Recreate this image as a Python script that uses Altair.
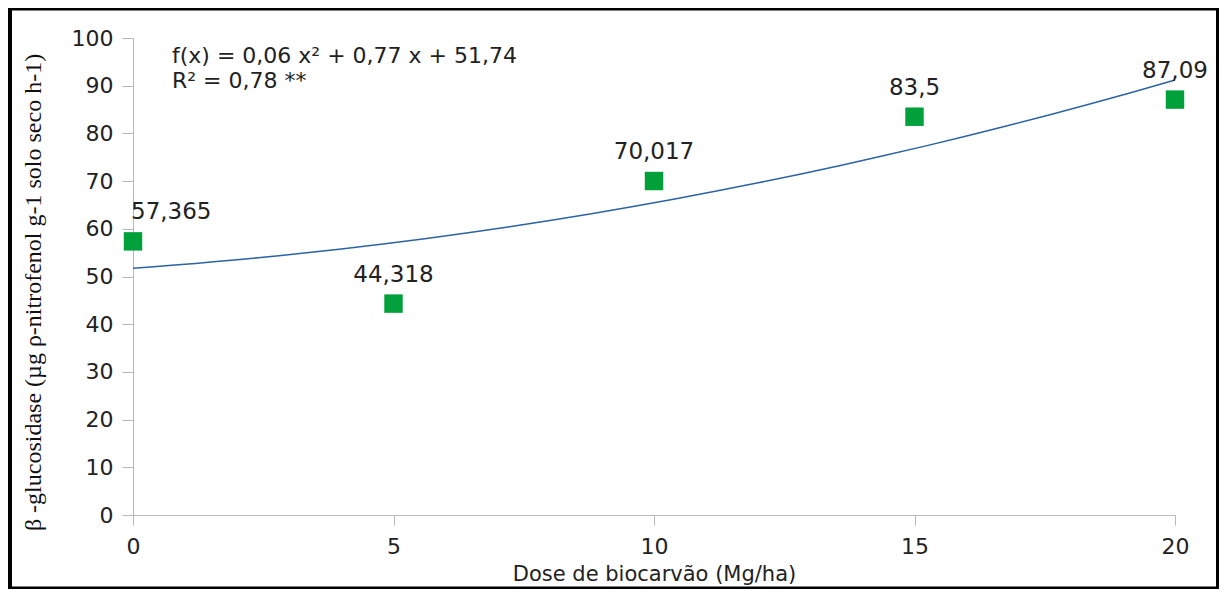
import altair as alt
import pandas as pd

# ---- data ----
doses = [0, 5, 10, 15, 20]
values = [57.365, 44.318, 70.017, 83.5, 87.09]
labels = ["57,365", "44,318", "70,017", "83,5", "87,09"]
x_ticks = [0, 5, 10, 15, 20]
y_ticks = [0, 10, 20, 30, 40, 50, 60, 70, 80, 90, 100]
equation = "f(x) = 0,06 x² + 0,77 x + 51,74"
r_squared = "R² = 0,78 **"
x_title = "Dose de biocarvão (Mg/ha)"
y_title = "β -glucosidase (µg ρ-nitrofenol g-1 solo seco h-1)"

df = pd.DataFrame({"dose": doses, "valor": values, "rotulo": labels})

SANS = "DejaVu Sans"
SERIF = "Liberation Serif"
AXIS_GRAY = "#b8b8b8"
TEXT = "#222222"

x_enc = alt.X(
    "dose:Q",
    scale=alt.Scale(domain=[0, 20], nice=False, zero=False),
    axis=alt.Axis(
        values=x_ticks, title=x_title, grid=False,
        domainColor=AXIS_GRAY, tickColor=AXIS_GRAY, tickSize=10,
        labelFont=SANS, labelFontSize=22, labelColor=TEXT, labelPadding=11,
        labelFlush=False,
        titleFont=SANS, titleFontSize=21, titleFontWeight="normal",
        titleColor=TEXT, titleY=59, titleBaseline="middle",
    ),
)
y_enc = alt.Y(
    "valor:Q",
    scale=alt.Scale(domain=[0, 100], nice=False),
    axis=alt.Axis(
        values=y_ticks, title=y_title, grid=False,
        domainColor=AXIS_GRAY, tickColor=AXIS_GRAY, tickSize=11,
        labelFont=SANS, labelFontSize=22, labelColor=TEXT, labelPadding=9,
        labelFlush=False,
        titleFont=SERIF, titleFontSize=24, titleFontWeight="normal",
        titleColor="#111111", titleAngle=270, titleX=-100, titleY=254,
        titleAlign="center", titleBaseline="middle",
    ),
)

base = alt.Chart(df)

curve = base.transform_regression(
    "dose", "valor", method="poly", order=2, extent=[0, 20]
).mark_line(color="#2b63a3", strokeWidth=1.5).encode(x=x_enc, y=y_enc)

points = base.mark_square(
    size=340, color="#00a13a", opacity=1, filled=True
).encode(x="dose:Q", y="valor:Q")

labels_mid = base.transform_filter("datum.dose > 0").mark_text(
    align="center", baseline="middle", dy=-29,
    font=SANS, fontSize=23, color=TEXT,
).encode(x="dose:Q", y="valor:Q", text="rotulo:N")

labels_first = base.transform_filter("datum.dose == 0").mark_text(
    align="left", baseline="middle", dy=-29, dx=-2,
    font=SANS, fontSize=23, color=TEXT,
).encode(x="dose:Q", y="valor:Q", text="rotulo:N")

one = alt.Chart(pd.DataFrame({"k": [0]}))

annotation = one.mark_text(
    align="left", baseline="top", font=SANS, fontSize=22,
    color=TEXT, lineHeight=25,
).encode(x=alt.value(39), y=alt.value(8), text=alt.value([equation, r_squared]))

frame = one.mark_rect(
    fillOpacity=0, stroke="black", strokeWidth=4
).encode(
    x=alt.value(-123), x2=alt.value(1085),
    y=alt.value(-29.5), y2=alt.value(550.5),
)

chart = alt.layer(curve, points, labels_mid, labels_first, annotation, frame).properties(
    width=1042,
    height=477,
    autosize=alt.AutoSizeParams(type="none"),
    padding={"left": 125, "top": 30, "right": 44, "bottom": 74},
    background="white",
).configure_view(stroke=None)

chart.save("out.html", embed_options={"renderer": "svg", "actions": False})
